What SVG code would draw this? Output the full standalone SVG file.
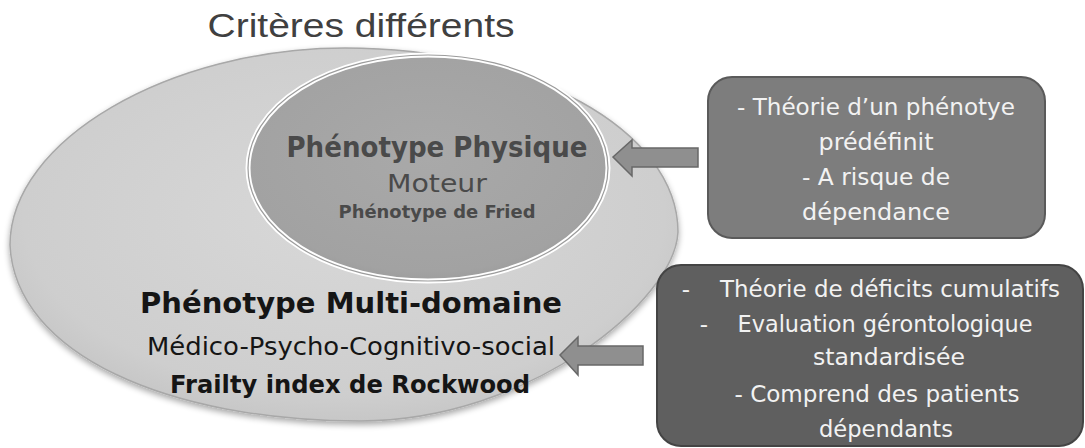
<svg xmlns="http://www.w3.org/2000/svg" width="1085" height="448" viewBox="0 0 1085 448">
<defs>
<radialGradient id="gBig" cx="0.5" cy="0.45" r="0.6">
<stop offset="0" stop-color="#d8d8d8"/><stop offset="0.8" stop-color="#cecece"/><stop offset="1" stop-color="#c2c2c2"/>
</radialGradient>
<radialGradient id="gIn" cx="0.5" cy="0.45" r="0.6">
<stop offset="0" stop-color="#a9a9a9"/><stop offset="0.85" stop-color="#a2a2a2"/><stop offset="1" stop-color="#979797"/>
</radialGradient>
<filter id="sh" x="-10%" y="-10%" width="120%" height="130%">
<feGaussianBlur in="SourceAlpha" stdDeviation="3"/><feOffset dy="3"/>
<feComponentTransfer><feFuncA type="linear" slope="0.35"/></feComponentTransfer>
<feMerge><feMergeNode/><feMergeNode in="SourceGraphic"/></feMerge>
</filter>
</defs>
<style>
.t{font-family:"DejaVu Sans","Liberation Sans",sans-serif;text-anchor:middle}
.b{font-weight:bold}
.box{fill:#f2f2f2;font-size:23px}
.arr{fill:#8f8f8f;stroke:#686868;stroke-width:1.5}
</style>
<rect width="1085" height="448" fill="#ffffff"/>
<text x="361" y="37" font-family="Liberation Sans, Arial, sans-serif" font-size="34" fill="#404040" text-anchor="middle" textLength="307" lengthAdjust="spacingAndGlyphs">Critères différents</text>

<g id="multi">
<path d="M345,48 C529,48 678,130 678,232 C675,300 530,421 360,421 C170,421 15,355 10,245 C10,140 170,48 345,48 Z" fill="url(#gBig)" stroke="#a8a8a8" stroke-width="1.5" filter="url(#sh)"/>
<text class="t b" x="351" y="313" font-size="29" fill="#151515" textLength="422" lengthAdjust="spacingAndGlyphs">Phénotype Multi-domaine</text>
<text class="t" x="351" y="355" font-size="24" fill="#151515" textLength="408" lengthAdjust="spacingAndGlyphs">Médico-Psycho-Cognitivo-social</text>
<text class="t b" x="350" y="393" font-size="24" fill="#151515" textLength="360" lengthAdjust="spacingAndGlyphs">Frailty index de Rockwood</text>
</g>

<g id="physique">
<ellipse cx="428" cy="168" rx="180" ry="113" fill="url(#gIn)" stroke="#ffffff" stroke-width="5"/>
<ellipse cx="428" cy="168" rx="180" ry="113" fill="none" stroke="#9c9c9c" stroke-width="1.2"/>
<text class="t b" x="437" y="157" font-size="29" fill="#4a4a4a" textLength="301" lengthAdjust="spacingAndGlyphs">Phénotype Physique</text>
<text class="t" x="437" y="192" font-size="24" fill="#4a4a4a" textLength="100" lengthAdjust="spacingAndGlyphs">Moteur</text>
<text class="t b" x="437" y="218" font-size="17" fill="#4a4a4a" textLength="197" lengthAdjust="spacingAndGlyphs">Phénotype de Fried</text>
</g>

<g id="box1">
<rect x="708" y="77" width="337" height="161" rx="24" fill="#7d7d7d" stroke="#5a5a5a" stroke-width="2"/>
<text class="t box" x="876" y="115" textLength="278" lengthAdjust="spacingAndGlyphs">- Théorie d’un phénotye</text>
<text class="t box" x="876" y="150" textLength="115" lengthAdjust="spacingAndGlyphs">prédéfinit</text>
<text class="t box" x="876" y="185" textLength="148" lengthAdjust="spacingAndGlyphs">- A risque de</text>
<text class="t box" x="876" y="220" textLength="148" lengthAdjust="spacingAndGlyphs">dépendance</text>
</g>

<g id="box2">
<rect x="657" y="265" width="426" height="181" rx="24" fill="#5f5f5f" stroke="#444" stroke-width="2"/>
<text class="t box" x="686" y="297">-</text>
<text class="t box" x="890" y="297" textLength="340" lengthAdjust="spacingAndGlyphs">Théorie de déficits cumulatifs</text>
<text class="t box" x="704" y="332">-</text>
<text class="t box" x="885" y="332" textLength="295" lengthAdjust="spacingAndGlyphs">Evaluation gérontologique</text>
<text class="t box" x="889" y="365" textLength="152" lengthAdjust="spacingAndGlyphs">standardisée</text>
<text class="t box" x="877" y="402" textLength="285" lengthAdjust="spacingAndGlyphs">- Comprend des patients</text>
<text class="t box" x="886" y="437" textLength="134" lengthAdjust="spacingAndGlyphs">dépendants</text>
</g>

<g id="connectors">
<path class="arr" d="M698,148 L632,148 L632,140 L613,157 L632,176 L632,167 L698,167 Z"/>
<path class="arr" d="M643,346 L578,346 L578,337 L560,355 L578,375 L578,365 L643,365 Z"/>
</g>
</svg>
